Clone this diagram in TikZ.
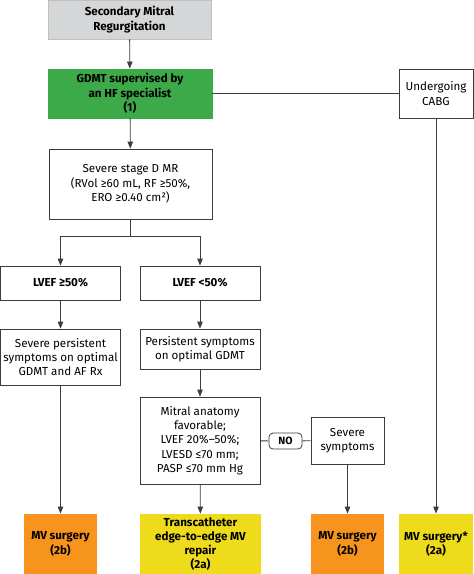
\documentclass[tikz,border=0pt]{standalone}
\usepackage{fontspec}
\setmainfont{Fira Sans}
\usetikzlibrary{arrows.meta}
\usetikzlibrary{positioning}

\definecolor{startgray}{HTML}{D5D6D8}
\definecolor{hfgreen}{HTML}{3DAA4A}
\definecolor{recorange}{HTML}{F7941D}
\definecolor{recyellow}{HTML}{EEDB1B}
\definecolor{linegray}{HTML}{3C3C3C}

\begin{document}
\begin{tikzpicture}[x=1pt,y=-1pt]
		\tikzset{box/.style={draw=linegray,fill=white,line width=0.8pt,align=center,inner sep=1pt,font=\fontsize{11.6}{14.3}\selectfont}}
		\tikzset{rec/.style={box,draw=none,font=\fontsize{11.6}{14.3}\selectfont\bfseries}}
		\tikzset{arr/.style={draw=linegray,line width=0.8pt,-{Triangle[length=7pt,width=5.5pt]}}}
		\tikzset{conn/.style={draw=linegray,line width=0.8pt}}
		\useasboundingbox (0,0) rectangle (474,574);

		% start and treatment
		\node[box,draw=black!25,fill=startgray,font=\fontsize{11.6}{14.3}\selectfont\bfseries,minimum width=163pt,minimum height=39pt] (smr) at (129.5,19.5) {Secondary Mitral\\Regurgitation};
		\node[box,draw=hfgreen,fill=hfgreen,font=\fontsize{11.6}{14.3}\selectfont\bfseries,minimum width=164pt,minimum height=49pt] (gdmt) at (130,93.5) {GDMT supervised by\\an HF specialist\\(1)};
		\node[box,minimum width=74pt,minimum height=49pt] (cabg) at (436,93.5) {Undergoing\\CABG};
		\node[box,minimum width=163pt,minimum height=70pt] (sev) at (130.5,184) {Severe stage D MR\\(RVol ≥60 mL, RF ≥50\%,\\ERO ≥0.40 cm²)};

		% LVEF branches
		\node[box,font=\fontsize{11.6}{14.3}\selectfont\bfseries,minimum width=120pt,minimum height=34pt] (lvefhi) at (60.5,283) {LVEF ≥50\%};
		\node[box,font=\fontsize{11.6}{14.3}\selectfont\bfseries,minimum width=120pt,minimum height=34pt] (lveflo) at (200,283) {LVEF <50\%};
		\node[box,minimum width=120pt,minimum height=56pt] (sps) at (60.5,357) {Severe persistent\\symptoms on optimal\\GDMT and AF Rx};
		\node[box,minimum width=120pt,minimum height=40pt] (ps) at (200,349) {Persistent symptoms\\on optimal GDMT};
		\node[box,minimum width=120pt,minimum height=87pt] (anat) at (200,440.5) {Mitral anatomy\\favorable;\\LVEF 20\%–50\%;\\LVESD ≤70 mm;\\PASP ≤70 mm Hg};
		\node[box,rounded corners=4pt,font=\fontsize{10.5}{12}\selectfont\bfseries,minimum width=33pt,minimum height=16pt] (no) at (285.5,441) {NO};
		\node[box,minimum width=73pt,minimum height=47pt] (sevsym) at (347.5,440.5) {Severe\\symptoms};

		% recommendations
		\node[rec,fill=recorange,minimum width=73pt,minimum height=60pt] (mvs1) at (60.5,544) {MV surgery\\(2b)};
		\node[rec,fill=recyellow,minimum width=121pt,minimum height=60pt] (teer) at (200.5,544) {Transcatheter\\edge-to-edge MV\\repair\\(2a)};
		\node[rec,fill=recorange,minimum width=73pt,minimum height=60pt] (mvs2) at (347.5,544) {MV surgery\\(2b)};
		\node[rec,fill=recyellow,minimum width=74pt,minimum height=60pt] (mvs3) at (436,544) {MV surgery*\\(2a)};

		% connectors
		\draw[arr] (smr) -- (gdmt);
		\draw[arr] (gdmt) -- (sev);
		\draw[conn] (gdmt) -- (cabg);
		\draw[arr] (cabg) -- (mvs3);
		\draw[conn] (sev.south) -- ++(0,17) coordinate (split);
		\draw[arr] (split) -| (lvefhi.north);
		\draw[arr] (split) -| (lveflo.north);
		\draw[arr] (lvefhi) -- (sps);
		\draw[arr] (lveflo) -- (ps);
		\draw[arr] (ps) -- (anat);
		\draw[arr] (sps) -- (mvs1);
		\draw[arr] (anat) -- (teer);
		\draw[conn] (anat) -- (no);
		\draw[conn] (no) -- (sevsym);
		\draw[arr] (sevsym) -- (mvs2);
	\end{tikzpicture}
\end{document}
